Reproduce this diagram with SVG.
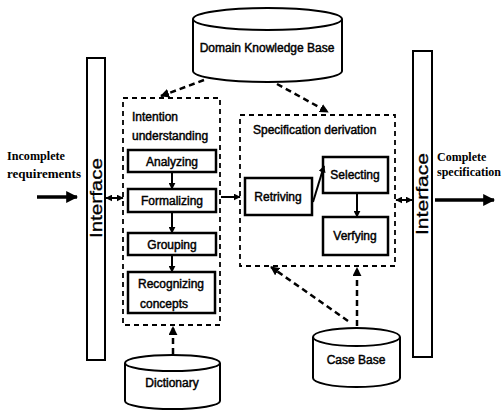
<svg xmlns="http://www.w3.org/2000/svg" width="502" height="410" viewBox="0 0 502 410">
<defs>
<marker id="ah" viewBox="0 0 10 10" refX="9" refY="5" markerWidth="7" markerHeight="7" markerUnits="userSpaceOnUse" orient="auto-start-reverse"><path d="M0,0 L10,5 L0,10 z" fill="#000"/></marker>
<marker id="dah" viewBox="0 0 10 10" refX="9" refY="5" markerWidth="9" markerHeight="9" markerUnits="userSpaceOnUse" orient="auto"><path d="M0,0 L10,5 L0,10 z" fill="#000"/></marker>
<marker id="big" viewBox="0 0 10 10" refX="9" refY="5" markerWidth="12" markerHeight="12" markerUnits="userSpaceOnUse" orient="auto"><path d="M0,0 L10,5 L0,10 z" fill="#000"/></marker>
<style>
.box{fill:#fff;stroke:#000;stroke-width:2.5}
.dbox{fill:none;stroke:#000;stroke-width:1.8;stroke-dasharray:5 4}
.bar{fill:#fff;stroke:#000;stroke-width:2}
.cyl{fill:#fff;stroke:#000;stroke-width:2}
.lbl{font-family:"Liberation Sans",Arial,sans-serif;font-size:12px;fill:#000;stroke:#000;stroke-width:0.45;text-anchor:middle}
.lbll{font-family:"Liberation Sans",Arial,sans-serif;font-size:12px;fill:#000;stroke:#000;stroke-width:0.45}
.ser{font-family:"Liberation Serif","Times New Roman",serif;font-size:12px;font-weight:bold;fill:#000}
.ifc{font-family:"Liberation Sans",Arial,sans-serif;font-size:16px;fill:#000;stroke:#000;stroke-width:0.3;text-anchor:middle}
.sol{fill:none;stroke:#000;stroke-width:2}
.dsh{fill:none;stroke:#000;stroke-width:2.5;stroke-dasharray:6 4}
.thick{fill:none;stroke:#000;stroke-width:3.5}
</style>
</defs>

<g id="input-label">
<text class="ser" x="7" y="160" textLength="58" lengthAdjust="spacingAndGlyphs">Incomplete</text>
<text class="ser" x="7" y="178" textLength="74" lengthAdjust="spacingAndGlyphs">requirements</text>
</g>
<g id="output-label">
<text class="ser" x="437" y="161">Complete</text>
<text class="ser" x="437" y="176">specification</text>
</g>

<g id="interface-left">
<rect class="bar" x="87" y="58" width="18" height="302"/>
<text class="ifc" transform="translate(102,198) rotate(-90)" x="0" y="0" textLength="80" lengthAdjust="spacingAndGlyphs">Interface</text>
</g>
<g id="interface-right">
<rect class="bar" x="413" y="51" width="19" height="306"/>
<text class="ifc" transform="translate(428,194) rotate(-90)" x="0" y="0" textLength="82" lengthAdjust="spacingAndGlyphs">Interface</text>
</g>

<g id="domain-kb">
<path class="cyl" d="M193,19 A74.5,11 0 0 1 342,19 L342,71 A74.5,11 0 0 1 193,71 Z"/>
<path class="cyl" d="M193,19 A74.5,11 0 0 0 342,19"/>
<text class="lbl" x="267" y="52">Domain Knowledge Base</text>
</g>

<g id="intention-understanding">
<rect class="dbox" x="123" y="98" width="97" height="227"/>
<text class="lbll" x="132" y="121">Intention</text>
<text class="lbll" x="132" y="140">understanding</text>
</g>
<g id="analyzing">
<rect class="box" x="128" y="150" width="88" height="22"/>
<text class="lbl" x="172" y="165.5">Analyzing</text>
</g>
<g id="formalizing">
<rect class="box" x="128" y="189" width="88" height="23"/>
<text class="lbl" x="172" y="205">Formalizing</text>
</g>
<g id="grouping">
<rect class="box" x="128" y="233" width="88" height="22"/>
<text class="lbl" x="172" y="248.5">Grouping</text>
</g>
<g id="recognizing">
<rect class="box" x="128" y="272" width="87" height="41"/>
<text class="lbl" x="171" y="288">Recognizing</text>
<text class="lbl" x="164" y="308">concepts</text>
</g>

<g id="specification-derivation">
<rect class="dbox" x="240" y="115" width="155" height="151"/>
<text class="lbll" x="253" y="134">Specification derivation</text>
</g>
<g id="retriving">
<rect class="box" x="245" y="178" width="67" height="37"/>
<text class="lbl" x="278" y="201">Retriving</text>
</g>
<g id="selecting">
<rect class="box" x="323" y="157" width="65" height="36"/>
<text class="lbl" x="355" y="179">Selecting</text>
</g>
<g id="verfying">
<rect class="box" x="323" y="217" width="65" height="38"/>
<text class="lbl" x="355" y="240">Verfying</text>
</g>

<g id="dictionary">
<path class="cyl" d="M125,363 A47.5,8 0 0 1 220,363 L220,401 A47.5,8 0 0 1 125,401 Z"/>
<path class="cyl" d="M125,363 A47.5,8 0 0 0 220,363"/>
<text class="lbl" x="172" y="387">Dictionary</text>
</g>

<g id="case-base">
<path class="cyl" d="M313,337 A43.5,9 0 0 1 400,337 L400,378 A43.5,9 0 0 1 313,378 Z"/>
<path class="cyl" d="M313,337 A43.5,9 0 0 0 400,337"/>
<text class="lbl" x="356" y="364">Case Base</text>
</g>

<g id="connectors">
<line class="sol" x1="172" y1="173" x2="172" y2="189" marker-end="url(#ah)"/>
<line class="sol" x1="172" y1="213" x2="172" y2="233" marker-end="url(#ah)"/>
<line class="sol" x1="172" y1="256" x2="172" y2="272" marker-end="url(#ah)"/>
<line class="sol" x1="106" y1="198" x2="123" y2="198" marker-start="url(#ah)" marker-end="url(#ah)"/>
<line class="sol" x1="221" y1="197" x2="240" y2="197" marker-end="url(#ah)"/>
<line class="sol" x1="313" y1="202" x2="324" y2="166" marker-end="url(#ah)"/>
<line class="sol" x1="357" y1="194" x2="357" y2="217" marker-end="url(#ah)"/>
<line class="sol" x1="396" y1="200" x2="412" y2="200" marker-start="url(#ah)" marker-end="url(#ah)"/>
<line class="dsh" x1="204" y1="80" x2="161" y2="96" marker-end="url(#dah)"/>
<line class="dsh" x1="277" y1="84" x2="328" y2="112" marker-end="url(#dah)"/>
<line class="dsh" x1="173" y1="354" x2="173" y2="327" marker-end="url(#dah)"/>
<line class="dsh" x1="348" y1="321" x2="271" y2="267" marker-end="url(#dah)"/>
<line class="dsh" x1="357" y1="326" x2="357" y2="268" marker-end="url(#dah)"/>
<line class="thick" x1="37" y1="197" x2="77" y2="197" marker-end="url(#big)"/>
<line class="thick" x1="435" y1="200" x2="494" y2="200" marker-end="url(#big)"/>
</g>
</svg>
